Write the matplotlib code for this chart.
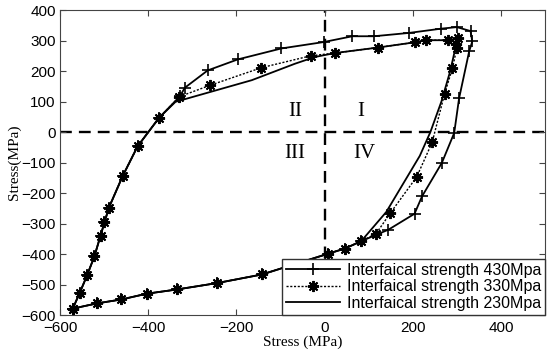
import numpy as np
import matplotlib
matplotlib.use("Agg")
import matplotlib.pyplot as plt

# shared loading branch (lower left, all three curves)
load_x = [-571, -555, -538, -522, -508, -499, -489, -458, -424, -375]
load_y = [-579, -527, -468, -408, -340, -296, -248, -145, -47, 47]

# shared unloading branch (bottom, back to the start)
unload_x = [83, 46, 8, -142, -243, -334, -403, -461, -517, -571]
unload_y = [-358, -382, -399, -467, -495, -516, -530, -549, -562, -579]

# per-curve upper / right parts
s430_x = [-328, -317, -265, -197, -98, -2, 63, 112, 192, 265, 300, 331, 335, 328, 305, 294, 266, 221, 204, 145]
s430_y = [117, 145, 202, 238, 274, 295, 314, 314, 325, 339, 344, 331, 297, 265, 110, -3, -101, -211, -268, -320]

s330_x = [-329, -260, -143, -31, 24, 121, 204, 229, 279, 302, 299, 300, 290, 272, 244, 209, 149, 117]
s330_y = [116, 153, 211, 250, 259, 277, 294, 301, 301, 307, 290, 275, 209, 124, -34, -147, -266, -333]

s230_x = [-338, -165, -67, -22, 24, 121, 204, 229, 279, 302, 299, 285, 265, 240, 216, 140]
s230_y = [99, 170, 224, 246, 259, 277, 294, 301, 301, 307, 290, 200, 100, 0, -78, -262]

labels = ["Interfaical strength 430Mpa",
          "Interfaical strength 330Mpa",
          "Interfaical strength 230Mpa"]

quad_text = ["II", "I", "III", "IV"]
quad_x = [-67, 83, -67, 91]
quad_y = [66, 66, -71, -71]


def full(mx, my):
    return load_x + mx + unload_x, load_y + my + unload_y


fig = plt.figure(figsize=(5.5, 3.58), dpi=100)
ax = fig.add_axes([0.109, 0.12, 0.882, 0.852])

ax.axhline(0, color="k", lw=1.7, ls=(0, (5, 3)), zorder=1)
ax.axvline(0, color="k", lw=1.7, ls=(0, (5, 3)), zorder=1)

x, y = full(s430_x, s430_y)
ax.plot(x, y, color="k", lw=1.3, marker="+", ms=9, mew=1.2, label=labels[0], zorder=3)
x, y = full(s330_x, s330_y)
ax.plot(x, y, color="k", lw=1.0, ls=(0, (1.5, 1.2)), marker=(8, 2, 0), ms=8, mew=1.4,
        label=labels[1], zorder=4)
x, y = full(s230_x, s230_y)
ax.plot(x, y, color="k", lw=1.3, label=labels[2], zorder=2)

for t, qx, qy in zip(quad_text, quad_x, quad_y):
    ax.text(qx, qy, t, fontsize=15, family="Liberation Serif", ha="center", va="center")

ax.set_xlim(-600, 500)
ax.set_ylim(-600, 400)
ax.set_xticks([-600, -400, -200, 0, 200, 400])
ax.set_yticks(np.arange(-600, 401, 100))
ax.tick_params(direction="in", top=True, right=True, length=4, labelsize=11,
               color="#444444")
ax.tick_params(axis="x", pad=4.5)
ax.tick_params(axis="y", pad=3)
for lab in ax.get_xticklabels() + ax.get_yticklabels():
    lab.set_family("Liberation Sans")
for sp in ax.spines.values():
    sp.set_color("#444444")

ax.set_xlabel("Stress (MPa)", family="Liberation Serif", fontsize=11, labelpad=0)
ax.set_ylabel("Stress(MPa)", family="Liberation Serif", fontsize=11, labelpad=0)

leg = ax.legend(loc="lower right", borderaxespad=0, fancybox=False, numpoints=1,
                handlelength=3.4, prop={"family": "Liberation Sans", "size": 11.5},
                labelspacing=0.1, borderpad=0.25, handletextpad=0.4)
leg.get_frame().set_edgecolor("#333333")
leg.get_frame().set_linewidth(1.0)
leg.get_frame().set_alpha(1)
leg.set_zorder(10)

fig.savefig("out.png", dpi=100)
